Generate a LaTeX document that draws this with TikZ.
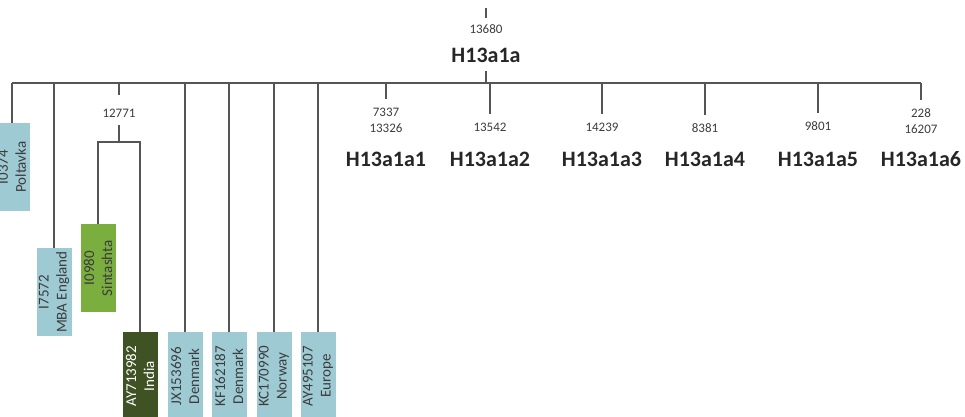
\documentclass[tikz,border=0pt]{standalone}
\usepackage{fontspec}
\setmainfont{Carlito}
\usetikzlibrary{positioning,calc}
\definecolor{sampleblue}{RGB}{157,202,211}
\definecolor{sintgreen}{RGB}{122,174,62}
\definecolor{indiagreen}{RGB}{63,82,36}
\definecolor{treegray}{RGB}{85,85,85}
\definecolor{labelgray}{RGB}{60,60,60}

\begin{document}
\begin{tikzpicture}[x=1pt,y=-1pt,
    branch/.style={draw=treegray,line width=1.5pt},
    mutpos/.style={font=\fontsize{13}{16}\selectfont,text=labelgray,align=center,inner sep=0pt},
    clade/.style={font=\fontsize{22}{25}\selectfont\bfseries,text=black!85,inner sep=0pt},
    sample/.style={fill=sampleblue,rotate=90,anchor=east,minimum width=88pt,minimum height=35pt,
        inner sep=0pt,align=center,font=\fontsize{15}{18}\selectfont,text=labelgray}]
    \path[use as bounding box,clip] (0,0) rectangle (965,416);

    % Root clade
    \coordinate (roottick) at (486,8);
    \node[mutpos] (rootpos) at (486,29) {13680};
    \node[clade] (root) at (486,55) {H13a1a};
    \draw[branch] (roottick) -- ($(rootpos.north)+(0,-6)$);
    \coordinate (rootstub) at (486,71);

    % Main bar
    \coordinate (barleft) at (12,83);
    \coordinate (barright) at (921,83);
    \draw[branch] (barleft) -- (barright);
    \draw[branch] (rootstub) -- (rootstub |- barleft);

    % Samples on the left
    \node[sample] (poltavka) at (12,123) {I0374\\Poltavka};
    \draw[branch] (poltavka.east) -- (poltavka.east |- barleft);
    \node[sample] (mba) at (54,248) {I7572\\MBA England};
    \draw[branch] (mba.east) -- (mba.east |- barleft);

    % Sub-branch 12771
    \node[mutpos] (subpos) at (119,113) {12771};
    \coordinate (subtop) at (119,95);
    \coordinate (subbot) at (119,125);
    \coordinate (subbar) at (119,142);
    \draw[branch] (subtop) -- (subtop |- barleft);
    \draw[branch] (subbot) -- (subbar);
    \node[sample,fill=sintgreen] (sintashta) at (98,224) {I0980\\Sintashta};
    \node[sample,fill=indiagreen,text=white] (india) at (140,332) {AY713982\\India};
    \draw[branch] (sintashta.east) -- (sintashta.east |- subbar) -- (india.east |- subbar) -- (india.east);

    % Modern samples
    \node[sample] (jx) at (185,332) {JX153696\\Denmark};
    \draw[branch] (jx.east) -- (jx.east |- barleft);
    \node[sample] (kf) at (229,332) {KF162187\\Denmark};
    \draw[branch] (kf.east) -- (kf.east |- barleft);
    \node[sample] (kc) at (274,332) {KC170990\\Norway};
    \draw[branch] (kc.east) -- (kc.east |- barleft);
    \node[sample] (ay) at (318,332) {AY495107\\Europe};
    \draw[branch] (ay.east) -- (ay.east |- barleft);

    % Sub-clades
    \node[mutpos] (pos1) at (386,120) {7337\\13326};
    \node[clade] (h1) at (386,159) {H13a1a1};
    \draw[branch] (386,99) coordinate (end1) -- (end1 |- barleft);

    \node[mutpos] (pos2) at (490,127) {13542};
    \node[clade] (h2) at (490,159) {H13a1a2};
    \draw[branch] (490,114) coordinate (end2) -- (end2 |- barleft);

    \node[mutpos] (pos3) at (602,127) {14239};
    \node[clade] (h3) at (602,159) {H13a1a3};
    \draw[branch] (602,114) coordinate (end3) -- (end3 |- barleft);

    \node[mutpos] (pos4) at (705,128) {8381};
    \node[clade] (h4) at (705,159) {H13a1a4};
    \draw[branch] (705,115) coordinate (end4) -- (end4 |- barleft);

    \node[mutpos] (pos5) at (818,126) {9801};
    \node[clade] (h5) at (818,159) {H13a1a5};
    \draw[branch] (818,113) coordinate (end5) -- (end5 |- barleft);

    \node[mutpos] (pos6) at (921,121) {228\\16207};
    \node[clade] (h6) at (921,159) {H13a1a6};
    \draw[branch] (921,100) coordinate (end6) -- (end6 |- barleft);
\end{tikzpicture}
\end{document}
